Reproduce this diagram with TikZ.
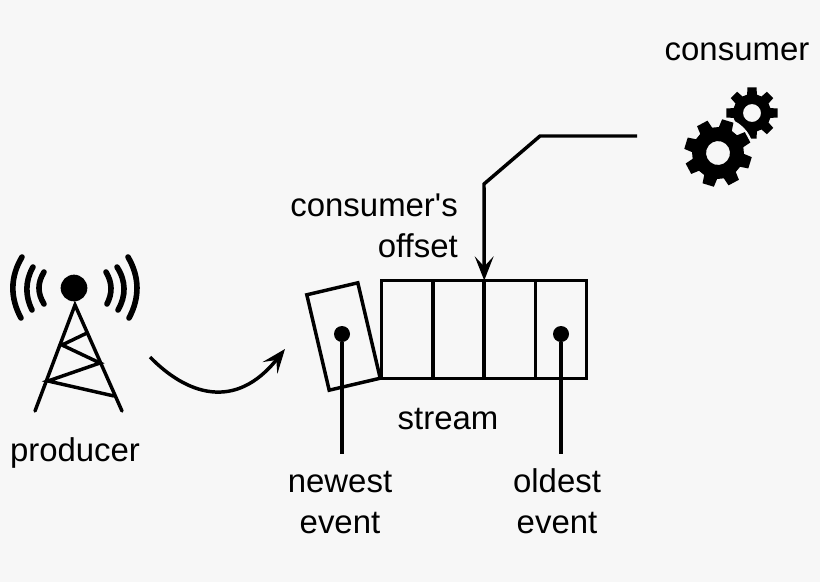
\documentclass[tikz,border=0pt]{standalone}
\usepackage{fontspec}
\setmainfont{Liberation Sans}
\usetikzlibrary{arrows.meta}
\definecolor{paper}{HTML}{F7F7F7}

\tikzset{
  label text/.style={inner sep=0pt,align=center,font=\fontsize{24.7}{30.75}\selectfont},
  wire/.style={line width=2.6pt},
  wave/.style={line width=4.2pt,line cap=round},
  mast/.style={line width=2.6pt},
  cell/.style={draw,line width=2.6pt,outer sep=0pt,minimum width=38.6pt,minimum height=73.5pt,inner sep=0pt},
  dot/.style={circle,fill=black,minimum size=12pt,inner sep=0pt},
  head/.style={-{Stealth[length=18pt,width=14pt,inset=7.5pt]}},
}

% one gear: centre, rotation, outer radius, root radius, hole radius
\newcommand{\gearshape}[6][]{%
  \fill[even odd rule,shift={(#2)},rotate=#3,#1] (-15:#5)
    \foreach \a in {0,45,...,315} {
      -- (\a-15:#5) -- (\a-10:#4) -- (\a+10:#4) -- (\a+15:#5)
    } -- cycle (0,0) circle [radius=#6];
}

\begin{document}
\begin{tikzpicture}[x=0.75pt,y=0.75pt,yscale=-1,xscale=1]
\useasboundingbox (0,0) rectangle (820,582);
\fill[paper] (0,0) rectangle (820,582);

% Antenna
\node[dot,minimum size=20pt] (top) at (74,288) {};
\coordinate (apex) at (75,305);
\coordinate (footl) at (35,411);
\coordinate (footr) at (122,411);
\draw[mast,line cap=round] (footl) -- (apex) -- (footr);
\draw[mast] (87,333) -- (62,345) -- (100,363) -- (48,381) -- (114,396);

% Waves
\draw[wave] (22,257) .. controls (10,277) and (10,298) .. (21,318);
\draw[wave] (33,267) .. controls (25,281) and (25,296) .. (32,310);
\draw[wave] (44,272) .. controls (37.3,283) and (37.3,293) .. (44,304);
\draw[wave] (128,257) .. controls (139.8,277) and (139.8,298) .. (129,318);
\draw[wave] (117,267) .. controls (126.2,281) and (126.2,296) .. (118,310);
\draw[wave] (106,272) .. controls (112.5,283) and (112.5,293) .. (107,304);

% Stream cells
\foreach \i/\x in {1/407,2/458.5,3/509.5,4/561}
  \node[cell] (cell\i) at (\x,329.5) {};
\node[cell,minimum width=39.3pt,rotate=13.2] (newcell) at (343.5,336.5) {};

% Dots and their lines
\node[dot] (newdot) at (342,334) {};
\node[dot] (olddot) at (561,334) {};
\coordinate (newend) at (342,454);
\coordinate (oldend) at (561,454);
\draw[wire] (newdot) -- (newend);
\draw[wire] (olddot) -- (oldend);

% Producer arrow
\coordinate (prodout) at (150,357);
\coordinate (prodin) at (285,349);
\draw[wire,head] (prodout) .. controls (186,394) and (235,412) .. (prodin);

% Consumer line
\coordinate (consout) at (637,136);
\coordinate (bend1) at (540,136);
\coordinate (bend2) at (484,184);
\draw[wire,head] (consout) -- (bend1) -- (bend2) -- (cell2.north east);

% Gears
\gearshape{752,113}{0}{26}{19}{9}
\fill[paper] (718,153) circle [radius=36];
\gearshape{718,153}{17}{34}{26}{12}

% Text
\node[label text] (producer) at (75,452.5) {producer};
\node[label text] (consumer) at (737,51.5) {consumer};
\node[label text,anchor=east] (offset) at (458,225.5) {consumer\textquotesingle s\\[0pt]\hfill offset};
\node[label text] (stream) at (448,419) {stream};
\node[label text] (newest) at (340,503) {newest\\event};
\node[label text] (oldest) at (557,501) {oldest\\event};

\end{tikzpicture}
\end{document}
